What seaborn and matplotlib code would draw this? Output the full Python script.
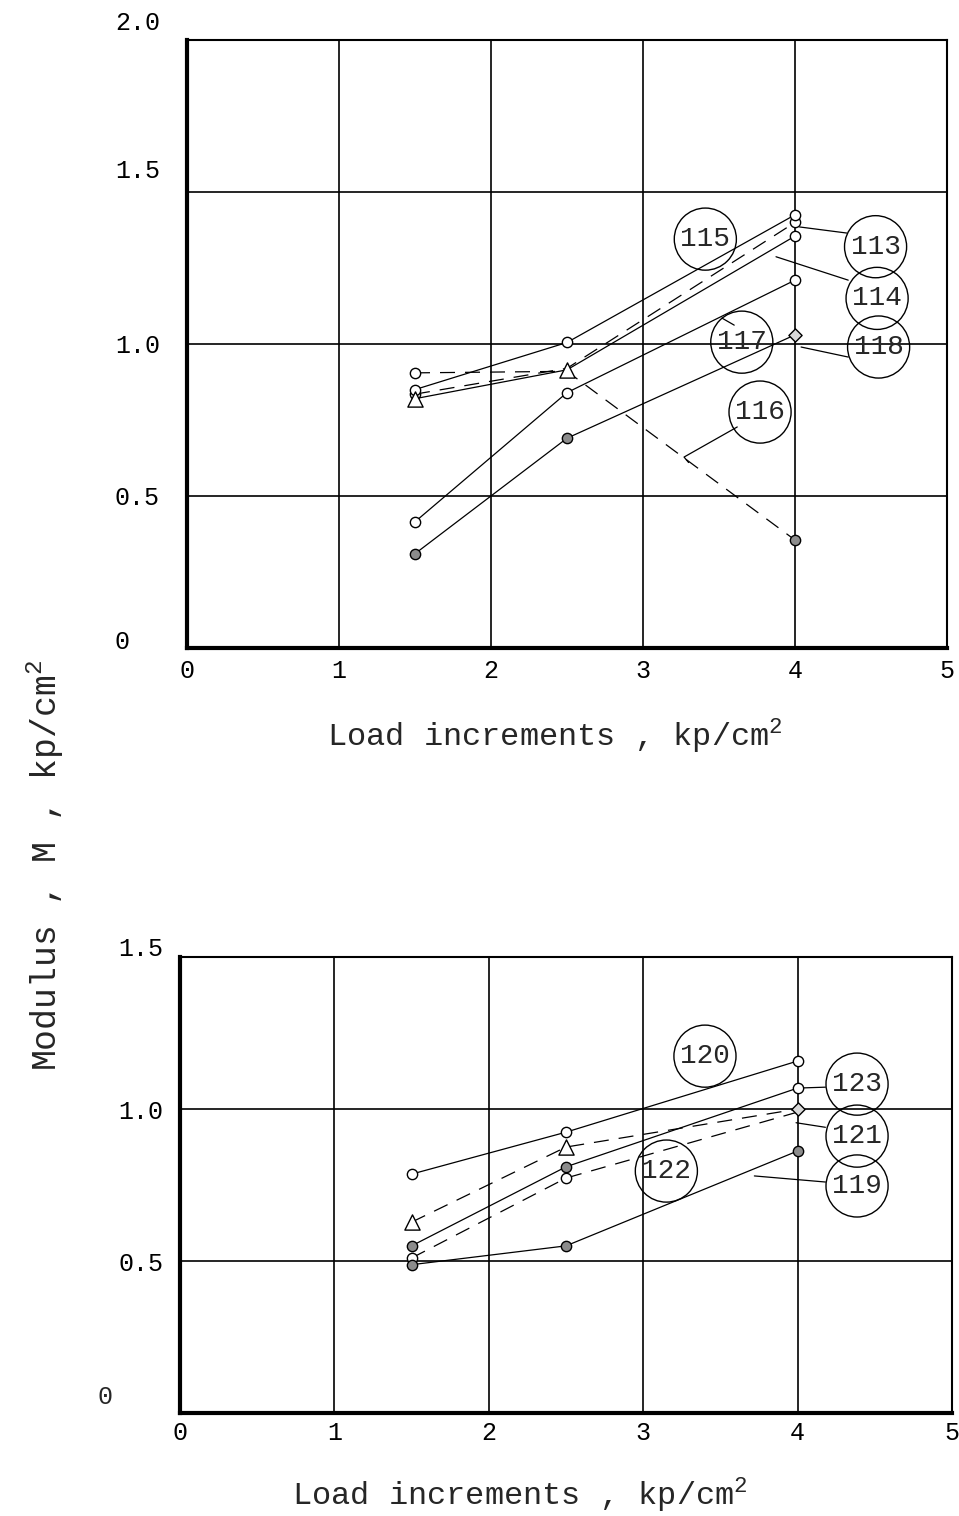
import matplotlib
matplotlib.use("Agg")
import matplotlib.pyplot as plt
import matplotlib.transforms as mtransforms
import seaborn as sns
import pandas as pd

sns.set_theme(style="white")
plt.rcParams["font.family"] = ["Liberation Mono", "DejaVu Sans"]
plt.rcParams["mathtext.fontset"] = "custom"
plt.rcParams["mathtext.rm"] = "Liberation Mono"

# Load increments (kp/cm^2) at which the modulus was measured
load = [1.5, 2.5, 4.0]

# Upper panel: tests 113-118 (modulus M, kp/cm^2)
top_ids = ["113", "114", "115", "116", "117", "118"]
m113 = [0.835, 0.92, 1.40]
m114 = [0.82, 0.915, 1.355]
m115 = [0.85, 1.005, 1.425]
m116 = [0.905, 0.91, 0.355]
m117 = [0.415, 0.84, 1.21]
m118 = [0.31, 0.69, 1.03]
top_dashed = {"113": True, "114": False, "115": False, "116": True, "117": False, "118": False}
top_marks = {
    "113": ["open", "none", "open"],
    "114": ["tri", "tri", "open"],
    "115": ["open", "open", "open"],
    "116": ["open", "none", "filled"],
    "117": ["open", "open", "open"],
    "118": ["filled", "filled", "diamond"],
}

# Lower panel: tests 119-123
bot_ids = ["119", "120", "121", "122", "123"]
m119 = [0.488, 0.55, 0.862]
m120 = [0.786, 0.924, 1.158]
m121 = [0.628, 0.875, 1.00]
m122 = [0.51, 0.773, 0.99]
m123 = [0.55, 0.81, 1.069]
bot_dashed = {"119": False, "120": False, "121": True, "122": True, "123": False}
bot_marks = {
    "119": ["filled", "filled", "filled"],
    "120": ["open", "open", "open"],
    "121": ["tri", "tri", "diamond"],
    "122": ["open", "open", "none"],
    "123": ["filled", "filled", "open"],
}

x_ticks = [0, 1, 2, 3, 4, 5]
top_yticks = [0, 0.5, 1.0, 1.5, 2.0]
bot_yticks = [0.5, 1.0, 1.5]
x_label = "Load increments , kp/cm$^2$"
y_label = "Modulus , M , kp/cm$^2$"

# Circled test numbers (centre) and their leader lines
top_tags = {"113": (4.53, 1.32), "114": (4.54, 1.15), "118": (4.55, 0.99),
            "115": (3.41, 1.345), "117": (3.65, 1.006), "116": (3.77, 0.776)}
top_leaders = {"113": [(4.34, 1.365), (4.03, 1.385)],
               "114": [(4.35, 1.21), (3.875, 1.287)],
               "118": [(4.35, 0.957), (4.04, 0.99)],
               "117": [(3.52, 1.085), (3.60, 1.062)],
               "116": [(3.62, 0.727), (3.27, 0.628), (3.30, 0.61)]}
bot_tags = {"120": (3.40, 1.174), "123": (4.385, 1.082), "121": (4.385, 0.911),
            "119": (4.385, 0.747), "122": (3.15, 0.796)}
bot_leaders = {"123": [(4.18, 1.072), (4.0, 1.069)],
               "121": [(4.18, 0.94), (3.99, 0.955)],
               "119": [(4.18, 0.76), (3.72, 0.78)]}

top_vals = {"113": m113, "114": m114, "115": m115, "116": m116, "117": m117, "118": m118}
bot_vals = {"119": m119, "120": m120, "121": m121, "122": m122, "123": m123}


def long_table(ids, vals, marks):
    rows = []
    for s in ids:
        for xv, yv, mk in zip(load, vals[s], marks[s]):
            rows.append({"test": s, "load": xv, "modulus": yv, "mark": mk})
    return pd.DataFrame(rows)


def draw_panel(ax, ids, vals, marks, dashed, tags, leaders):
    df = long_table(ids, vals, marks)
    dash_map = {s: ((12, 8) if dashed[s] else "") for s in ids}
    sns.lineplot(data=df, x="load", y="modulus", style="test", dashes=dash_map,
                 units="test", estimator=None, sort=False, color="black",
                 linewidth=0.9, legend=False, ax=ax, zorder=3)
    styles = {
        "open": dict(marker="o", s=55, facecolor="white"),
        "filled": dict(marker="o", s=55, facecolor="0.55"),
        "tri": dict(marker="^", s=120, facecolor="white"),
        "diamond": dict(marker="D", s=45, facecolor="0.85"),
    }
    for kind, st in styles.items():
        sub = df[df["mark"] == kind]
        if len(sub):
            sns.scatterplot(data=sub, x="load", y="modulus", marker=st["marker"],
                            s=st["s"], facecolor=st["facecolor"], edgecolor="black",
                            linewidth=1.0, legend=False, ax=ax, zorder=4)
    for s, pts in leaders.items():
        ax.plot([p[0] for p in pts], [p[1] for p in pts], color="black", lw=0.9, zorder=3)
    for s, (cx, cy) in tags.items():
        ax.text(cx, cy, s, ha="center", va="center", fontsize=20, zorder=5,
                family=["Liberation Mono", "DejaVu Sans"],
                bbox=dict(boxstyle="circle,pad=0.22", fc="none", ec="black", lw=1.0))


def style_axes(ax, ylim, yticks, ypad, xpad):
    ax.set_xlim(0, 5)
    ax.set_ylim(*ylim)
    ax.set_xticks(x_ticks)
    ax.set_xticklabels([str(t) for t in x_ticks])
    ax.set_yticks(yticks)
    ax.set_yticklabels(["0" if t == 0 else f"{t:.1f}" for t in yticks])
    ax.tick_params(axis="both", length=0, labelsize=18, colors="black")
    ax.tick_params(axis="y", pad=ypad)
    ax.tick_params(axis="x", pad=xpad)
    ax.grid(True, color="black", linewidth=1.2)
    ax.set_axisbelow(True)
    for side, lw in (("left", 3.0), ("bottom", 3.0), ("top", 1.5), ("right", 1.5)):
        ax.spines[side].set_visible(True)
        ax.spines[side].set_color("black")
        ax.spines[side].set_linewidth(lw)
    ax.set_ylabel("")


fig = plt.figure(figsize=(9.59, 15.16), dpi=100)
ax1 = fig.add_axes([0.195, 0.5726, 0.7925, 0.401])
ax2 = fig.add_axes([0.1877, 0.0679, 0.805, 0.3008])

draw_panel(ax1, top_ids, top_vals, top_marks, top_dashed, top_tags, top_leaders)
style_axes(ax1, (0, 2.0), top_yticks, 52, 8)
# left-aligned tick labels in the upper panel, upper ones set a little higher
lift = {"0": 8, "0.5": 0, "1.0": 0, "1.5": 24, "2.0": 20}
for lab in ax1.get_yticklabels():
    lab.set_ha("left")
    dy = lift.get(lab.get_text(), 0)
    lab.set_transform(lab.get_transform()
                      + mtransforms.ScaledTranslation(0, dy / 100, fig.dpi_scale_trans))
ax1.set_xlabel(x_label, fontsize=23)
ax1.xaxis.set_label_coords(0.484, -0.112)

draw_panel(ax2, bot_ids, bot_vals, bot_marks, bot_dashed, bot_tags, bot_leaders)
style_axes(ax2, (0, 1.5), bot_yticks, 12, 6)
for lab in ax2.get_yticklabels():
    if lab.get_text() == "1.5":
        lab.set_transform(lab.get_transform()
                          + mtransforms.ScaledTranslation(0, 11 / 100, fig.dpi_scale_trans))
ax2.set_xlabel(x_label, fontsize=23)
ax2.xaxis.set_label_coords(0.44, -0.135)
ax2.annotate("0", xy=(0, 0), xycoords="data", xytext=(-75, 16),
             textcoords="offset pixels", ha="center", va="center", fontsize=18)

fig.text(0.047, 1 - 865 / 1516, y_label, rotation=90, ha="center", va="center", fontsize=25)

fig.savefig("out.png", dpi=100, facecolor="white")
